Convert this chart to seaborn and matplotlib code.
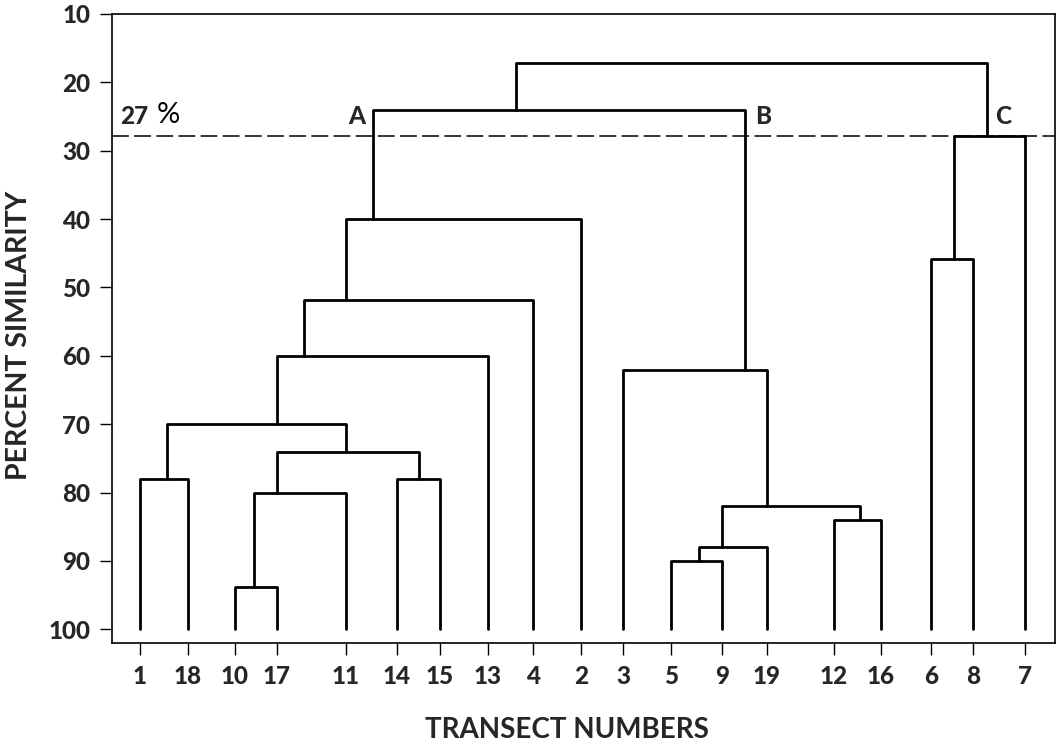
import matplotlib
matplotlib.use("Agg")
import matplotlib.pyplot as plt
import seaborn as sns
import pandas as pd

# ---------------- data ----------------
leaf_labels = ['1', '18', '10', '17', '11', '14', '15', '13', '4', '2',
               '3', '5', '9', '19', '12', '16', '6', '8', '7']
leaf_pos = [140, 188, 235, 277, 346, 397, 440, 488, 533, 581,
            623, 671, 722, 767, 834, 881, 931, 973, 1025]

# merges: left child, right child, similarity level, node name, node x-position
merge_left = ['10', 'n1', '14', 'n2', '1', 'n5', 'n6', 'n7', 'n8',
              '5', 'n10', '12', 'n11', '3', 'n9', '6', 'n16', 'n15']
merge_right = ['17', '11', '15', 'n3', '18', 'n4', '13', '4', '2',
               '9', '19', '16', 'n12', 'n13', 'n14', '8', '7', 'n17']
merge_level = [93.8, 80, 78, 74, 78, 70, 60, 51.9, 40,
               90, 88, 84, 82, 62, 24, 45.8, 27.9, 17.1]
merge_name = ['n1', 'n2', 'n3', 'n4', 'n5', 'n6', 'n7', 'n8', 'n9',
              'n10', 'n11', 'n12', 'n13', 'n14', 'n15', 'n16', 'n17', 'root']
merge_pos = [254, 277, 419, 346, 167, 277, 304, 346, 373,
             699, 722, 860, 767, 745, 516, 954, 987, None]

cut_level = 27.8
cluster_names = ['A', 'B', 'C']
yticks = [10, 20, 30, 40, 50, 60, 70, 80, 90, 100]

# ---------------- build segments ----------------
pos = dict(zip(leaf_labels, leaf_pos))
lvl = {lab: 100 for lab in leaf_labels}
rows = []
for i, (l, r, h, name, p) in enumerate(zip(merge_left, merge_right, merge_level,
                                             merge_name, merge_pos)):
    pts = [(pos[l], lvl[l]), (pos[l], h), (pos[r], h), (pos[r], lvl[r])]
    for k, (x, y) in enumerate(pts):
        rows.append({'seg': i, 'order': k, 'x': x, 'y': y})
    pos[name] = p
    lvl[name] = h
df = pd.DataFrame(rows)

# ---------------- plot ----------------
sns.set_theme(style="white")
plt.rcParams['font.family'] = ['Lato', 'DejaVu Sans']

fig = plt.figure(figsize=(10.62, 7.53), dpi=100)
ax = fig.add_axes([112 / 1062, 1 - 643 / 753, (1055 - 112) / 1062, (643 - 14) / 753])

sns.lineplot(data=df, x='x', y='y', units='seg', estimator=None, sort=False,
             color='black', linewidth=2.0, ax=ax, legend=False)

ax.axhline(cut_level, color='black', linewidth=1.1, dashes=(11, 3.5))

ax.set_xlim(112, 1055)
ax.set_ylim(102.0, 10)

ax.set_yticks(yticks)
ax.set_yticklabels([str(t) for t in yticks], fontsize=17.5, fontweight='black')
ax.set_xticks(leaf_pos)
ax.set_xticklabels(leaf_labels, fontsize=17.5, fontweight='black')
ax.tick_params(axis='both', which='both', direction='out', length=8.5,
               width=1.0, color='black', left=True, bottom=True, pad=7)

for s in ax.spines.values():
    s.set_visible(True)
    s.set_color('black')
    s.set_linewidth(1.2)

ax.set_xlabel('TRANSECT NUMBERS', fontsize=20, fontweight='bold')
ax.xaxis.set_label_coords((567 - 112) / 943, (643 - 717) / 629)
ax.set_ylabel('PERCENT SIMILARITY', fontsize=20.5, fontweight='bold')
ax.yaxis.set_label_coords((32 - 112) / 943, 1 - (335 - 14) / 629)

# annotations
ax.text(120, 25.0, '27', fontsize=17.5, fontweight='black', ha='left', va='center')
ax.text(157, 24.7, '%', fontsize=21, fontweight='normal', color='black',
        ha='left', va='center')
for name, x in zip(cluster_names, [348, 755, 995]):
    ax.text(x, 25.0, name, fontsize=17.5, fontweight='black', ha='left', va='center')

ax.grid(False)
fig.savefig('out.png', dpi=100, facecolor='white')
